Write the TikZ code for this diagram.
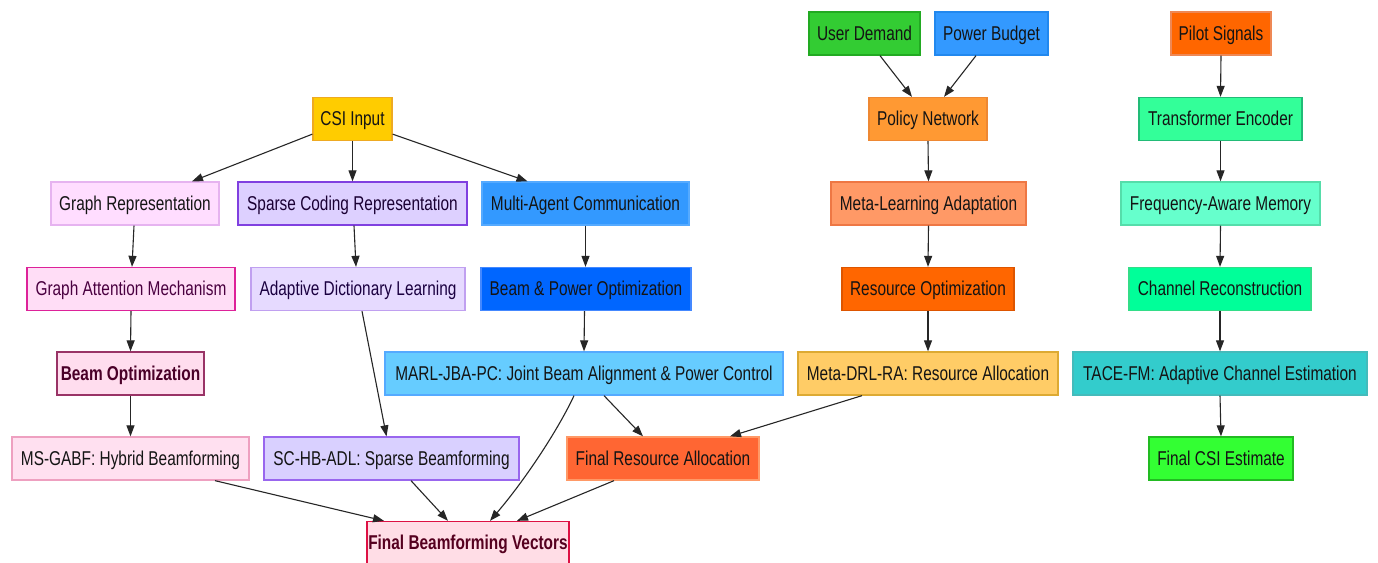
\documentclass[tikz,border=0pt]{standalone}
\usepackage{fontspec}
\setmainfont{Liberation Sans}[FakeStretch=0.77]
\usetikzlibrary{arrows.meta}
\definecolor{tdark}{HTML}{141414}
% fills / draws
\definecolor{udF}{HTML}{33CC33}\definecolor{udD}{HTML}{22AA22}
\definecolor{pbF}{HTML}{3399FF}\definecolor{pbD}{HTML}{2288EE}
\definecolor{psF}{HTML}{FF6600}\definecolor{psD}{HTML}{EE8855}
\definecolor{csiF}{HTML}{FFCC00}\definecolor{csiD}{HTML}{EEAA22}
\definecolor{pnF}{HTML}{FF9933}\definecolor{pnD}{HTML}{EE8833}
\definecolor{teF}{HTML}{33FF99}\definecolor{teD}{HTML}{22BB77}
\definecolor{grF}{HTML}{FFDDFF}\definecolor{grD}{HTML}{E6B3F0}
\definecolor{scrF}{HTML}{DDD0FF}\definecolor{scrD}{HTML}{8040E0}\definecolor{scrT}{HTML}{1A0033}
\definecolor{macF}{HTML}{3399FF}\definecolor{macD}{HTML}{55AAFF}
\definecolor{mlaF}{HTML}{FF9966}\definecolor{mlaD}{HTML}{EE7744}
\definecolor{famF}{HTML}{66FFCC}\definecolor{famD}{HTML}{55DDAA}
\definecolor{gamF}{HTML}{FFDDF6}\definecolor{gamD}{HTML}{DD2299}\definecolor{gamT}{HTML}{4A0040}
\definecolor{adlF}{HTML}{E6DAFF}\definecolor{adlD}{HTML}{C0A0F0}\definecolor{adlT}{HTML}{1A0040}
\definecolor{bpoF}{HTML}{0066FF}\definecolor{bpoD}{HTML}{4488FF}
\definecolor{roF}{HTML}{FF6600}\definecolor{roD}{HTML}{DD5500}
\definecolor{crF}{HTML}{00FF99}\definecolor{crD}{HTML}{33DD88}
\definecolor{boF}{HTML}{FFDDEE}\definecolor{boD}{HTML}{993366}\definecolor{boT}{HTML}{4A0028}
\definecolor{marlF}{HTML}{66CCFF}\definecolor{marlD}{HTML}{55AAFF}
\definecolor{mdrlF}{HTML}{FFCC66}\definecolor{mdrlD}{HTML}{DDAA33}
\definecolor{taceF}{HTML}{33CCCC}\definecolor{taceD}{HTML}{44BBBB}
\definecolor{msgF}{HTML}{FFE0F0}\definecolor{msgD}{HTML}{EEA0C0}
\definecolor{schbF}{HTML}{D9D0FF}\definecolor{schbD}{HTML}{9966EE}
\definecolor{fraF}{HTML}{FF6633}\definecolor{fraD}{HTML}{FF9966}
\definecolor{fcsiF}{HTML}{33FF33}\definecolor{fcsiD}{HTML}{22BB22}
\definecolor{fbvF}{HTML}{FFDDE6}\definecolor{fbvD}{HTML}{DD1144}\definecolor{fbvT}{HTML}{55001F}
\tikzset{
  box/.style={draw, line width=1.3pt, rectangle, inner sep=0pt, minimum height=43pt,
    text height=14.3pt, text depth=0.5pt,
    font=\fontsize{20}{24}\selectfont, text=tdark},
  arr/.style={draw=black!85, line width=1.1pt, -{Triangle[length=11pt,width=8pt]}},
  boldtxt/.style={font=\fontsize{20}{24}\selectfont\bfseries}
}
\begin{document}
\begin{tikzpicture}[x=1pt,y=-1pt]
\path[use as bounding box, fill=white] (0,0) rectangle (1378,562);
% row 0
\node[box, fill=udF, draw=udD, minimum width=111pt] (ud) at (864.5,33.5) {User Demand};
\node[box, fill=pbF, draw=pbD, minimum width=113pt] (pb) at (991.5,33.5) {Power Budget};
\node[box, fill=psF, draw=psD, minimum width=100pt] (ps) at (1221,33.5) {Pilot Signals};
% row 1
\node[box, fill=csiF, draw=csiD, minimum width=79pt] (csi) at (352.5,119) {CSI Input};
\node[box, fill=pnF, draw=pnD, minimum width=118pt] (pn) at (928,119) {Policy Network};
\node[box, fill=teF, draw=teD, minimum width=163pt] (te) at (1220.5,119) {Transformer Encoder};
% row 2
\node[box, fill=grF, draw=grD, minimum width=168pt] (gr) at (135,203.5) {Graph Representation};
\node[box, fill=scrF, draw=scrD, minimum width=229pt, text=scrT] (scr) at (352.5,203.5) {Sparse Coding Representation};
\node[box, fill=macF, draw=macD, minimum width=207pt] (mac) at (585.5,203.5) {Multi-Agent Communication};
\node[box, fill=mlaF, draw=mlaD, minimum width=195pt] (mla) at (928.5,203.5) {Meta-Learning Adaptation};
\node[box, fill=famF, draw=famD, minimum width=199pt] (fam) at (1220.5,203.5) {Frequency-Aware Memory};
% row 3
\node[box, fill=gamF, draw=gamD, minimum width=208pt, text=gamT] (gam) at (131,289) {Graph Attention Mechanism};
\node[box, fill=adlF, draw=adlD, minimum width=214pt, text=adlT] (adl) at (358,289) {Adaptive Dictionary Learning};
\node[box, fill=bpoF, draw=bpoD, minimum width=210pt] (bpo) at (586,289) {Beam \& Power Optimization};
\node[box, fill=roF, draw=roD, minimum width=172pt] (ro) at (928,289) {Resource Optimization};
\node[box, fill=crF, draw=crD, minimum width=182pt] (cr) at (1220,289) {Channel Reconstruction};
% row 4
\node[box, boldtxt, fill=boF, draw=boD, minimum width=147pt, text=boT] (bo) at (130.5,373.5) {Beam Optimization};
\node[box, fill=marlF, draw=marlD, minimum width=398pt] (marl) at (584,373.5) {MARL-JBA-PC: Joint Beam Alignment \& Power Control};
\node[box, fill=mdrlF, draw=mdrlD, minimum width=260pt] (mdrl) at (928,373.5) {Meta-DRL-RA: Resource Allocation};
\node[box, fill=taceF, draw=taceD, minimum width=294pt] (tace) at (1220,373.5) {TACE-FM: Adaptive Channel Estimation};
% row 5
\node[box, fill=msgF, draw=msgD, minimum width=237pt] (msg) at (130.5,458.5) {MS-GABF: Hybrid Beamforming};
\node[box, fill=schbF, draw=schbD, minimum width=255pt] (schb) at (391.5,458.5) {SC-HB-ADL: Sparse Beamforming};
\node[box, fill=fraF, draw=fraD, minimum width=192pt] (fra) at (663,458.5) {Final Resource Allocation};
\node[box, fill=fcsiF, draw=fcsiD, minimum width=144pt] (fcsi) at (1221,458.5) {Final CSI Estimate};
% row 6
\node[box, boldtxt, fill=fbvF, draw=fbvD, minimum width=202pt, text=fbvT] (fbv) at (468,543) {Final Beamforming Vectors};
% edges
\draw[arr] ([yshift=7pt]csi.south west) -- ([xshift=57pt]gr.north);
\draw[arr] (csi.south) -- (scr.north);
\draw[arr] ([yshift=7pt]csi.south east) -- ([xshift=-58pt]mac.north);
\draw[arr] ([xshift=-1pt]gr.south) -- ([xshift=1pt]gam.north);
\draw[arr] ([xshift=1.5pt]scr.south) -- ([xshift=-2pt]adl.north);
\draw[arr] (mac.south) -- ([xshift=-0.5pt]bpo.north);
\draw[arr] (gam.south) -- (bo.north);
\draw[arr] ([xshift=4pt]adl.south) -- ([xshift=-5pt]schb.north);
\draw[arr] ([xshift=-1.5pt]bpo.south) -- (marl.north);
\draw[arr] (bo.south) -- (msg.north);
\draw[arr] ([xshift=20pt]marl.south) -- ([xshift=-20pt]fra.north);
\draw[arr] ([xshift=-10pt]marl.south) .. controls (558,430) and (525,480) .. ([xshift=22pt]fbv.north);
\draw[arr] ([xshift=-66pt]mdrl.south) -- ([xshift=67pt]fra.north);
\draw[arr] ([xshift=84.5pt]msg.south) -- ([xshift=-84pt]fbv.north);
\draw[arr] ([xshift=19.5pt]schb.south) -- ([xshift=-20pt]fbv.north);
\draw[arr] ([xshift=-49pt]fra.south) -- ([xshift=49pt]fbv.north);
\draw[arr] ([xshift=15.5pt]ud.south) -- ([xshift=-16pt]pn.north);
\draw[arr] ([xshift=-15.5pt]pb.south) -- ([xshift=16pt]pn.north);
\draw[arr] (pn.south) -- (mla.north);
\draw[arr] (mla.south) -- (ro.north);
\draw[arr] (ro.south) -- (mdrl.north);
\draw[arr] (ps.south) -- (te.north);
\draw[arr] (te.south) -- (fam.north);
\draw[arr] (fam.south) -- (cr.north);
\draw[arr] (cr.south) -- (tace.north);
\draw[arr] (tace.south) -- (fcsi.north);
\end{tikzpicture}
\end{document}
